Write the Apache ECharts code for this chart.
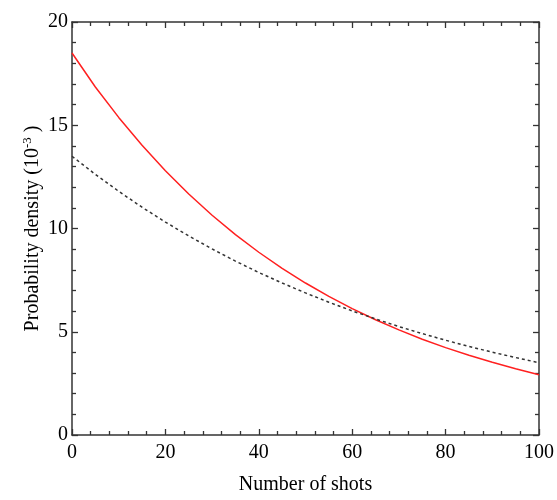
<!DOCTYPE html>
<html>
<head>
<meta charset="utf-8">
<script src="https://cdn.jsdelivr.net/npm/echarts@6/dist/echarts.min.js"></script>
<style>html,body{margin:0;padding:0;background:#fff}#c{width:557px;height:500px}</style>
</head>
<body>
<div id="c"></div>
<script>
const shots = [0,5,10,15,20,25,30,35,40,45,50,55,60,65,70,75,80,85,90,95,100];
const redValues = [18.5,16.85,15.38,14.03,12.8,11.67,10.64,9.7,8.85,8.07,7.36,6.71,6.12,5.58,5.09,4.64,4.23,3.86,3.52,3.21,2.92];
const blackValues = [13.5,12.62,11.8,11.03,10.31,9.64,9.01,8.42,7.87,7.36,6.88,6.43,6.01,5.62,5.25,4.91,4.59,4.29,4.01,3.75,3.5];
const xTicks = [0,20,40,60,80,100];
const yTicks = [0,5,10,15,20];

const font = 'Liberation Serif';
const axisColor = '#333';
const chart = echarts.init(document.getElementById('c'), null, {renderer:'canvas'});
const pair = (xs, ys) => xs.map((x,i)=>[x, ys[i]]);
const baseAxisLine = {show:true, onZero:false, lineStyle:{color:axisColor, width:1.5}};
const tick = {show:true, inside:true, length:6, lineStyle:{color:axisColor, width:1.3}};
const minor = {show:true, splitNumber:5, length:4, lineStyle:{color:axisColor, width:1.3}};

chart.setOption({
  animation:false,
  grid:{left:72, right:17, top:22, bottom:63},
  xAxis:[{
    type:'value', min:xTicks[0], max:xTicks[xTicks.length-1], interval:20,
    axisLine:baseAxisLine, axisTick:tick, minorTick:minor,
    splitLine:{show:false}, minorSplitLine:{show:false},
    axisLabel:{fontFamily:font, fontSize:20, color:'#000', margin:8},
    name:'Number of shots', nameLocation:'middle', nameGap:40,
    nameTextStyle:{fontFamily:font, fontSize:20, color:'#000'}
  },{
    type:'value', position:'top', min:xTicks[0], max:xTicks[xTicks.length-1], interval:20,
    axisLine:baseAxisLine, axisTick:tick, minorTick:minor,
    splitLine:{show:false}, axisLabel:{show:false}
  }],
  yAxis:[{
    type:'value', min:yTicks[0], max:yTicks[yTicks.length-1], interval:5,
    axisLine:baseAxisLine, axisTick:tick, minorTick:minor,
    splitLine:{show:false},
    axisLabel:{fontFamily:font, fontSize:20, color:'#000', margin:4},
    name:'Probability density (10{sup|-3} )', nameLocation:'middle', nameGap:27,
    nameMoveOverlap:false,
    nameTextStyle:{fontFamily:font, fontSize:20, color:'#000',
      rich:{sup:{fontFamily:font, fontSize:13, color:'#000', padding:[0,0,11,0]}}}
  },{
    type:'value', position:'right', min:yTicks[0], max:yTicks[yTicks.length-1], interval:5,
    axisLine:baseAxisLine, axisTick:tick, minorTick:minor,
    splitLine:{show:false}, axisLabel:{show:false}
  }],
  series:[{
    type:'line', data:pair(shots, redValues), smooth:false, symbol:'none',
    lineStyle:{color:'#ff2020', width:1.5}
  },{
    type:'line', data:pair(shots, blackValues), smooth:false, symbol:'none',
    lineStyle:{color:'#333', width:1.5, type:[3,3]}
  }]
});
</script>
</body>
</html>
